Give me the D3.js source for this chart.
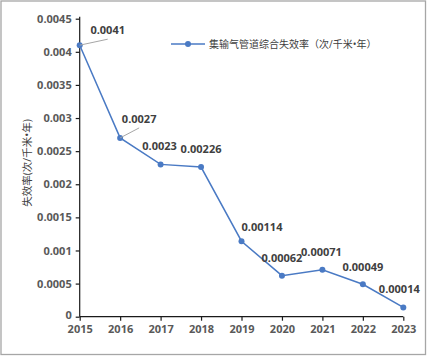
<!DOCTYPE html>
<html><head><meta charset="utf-8">
<script src="https://cdn.jsdelivr.net/npm/d3@7"></script>
<style>
html,body{margin:0;padding:0;background:#fff;}
svg{display:block;}
</style></head>
<body>
<script>
const years = ["2015","2016","2017","2018","2019","2020","2021","2022","2023"];
const values = [0.0041,0.0027,0.0023,0.00226,0.00114,0.00062,0.00071,0.00049,0.00014];
const valueLabels = ["0.0041","0.0027","0.0023","0.00226","0.00114","0.00062","0.00071","0.00049","0.00014"];
const yTicks = [0,0.0005,0.001,0.0015,0.002,0.0025,0.003,0.0035,0.004,0.0045];
const yTickLabels = ["0","0.0005","0.001","0.0015","0.002","0.0025","0.003","0.0035","0.004","0.0045"];
const seriesName = "集输气管道综合失效率（次/千米•年）";
const yTitle = "失效率(次/千米•年)";
// label placement offsets (layout only)
const labelOffsets = [[28,-15,true],[19,-19,true],[-1,-18,false],[0,-18,false],[20.5,-14,false],[0,-17.5,false],[-1,-18,false],[0,-17,false],[-4,-18,false]];

const W=428,H=356;
const svg=d3.select("body").append("svg").attr("width",W).attr("height",H);
svg.append("rect").attr("x",1).attr("y",1).attr("width",424.5).attr("height",353.5)
  .attr("fill","#fff").attr("stroke","#a6a6a6").attr("stroke-width",1.3);

const x=d3.scalePoint().domain(years).range([79.7,403.3]);
const y=d3.scaleLinear().domain([0,0.0045]).range([316.7,18.7]);
const numFont="'Open Sans', 'Noto Sans', sans-serif";
const cjkFont="'Open Sans', 'Noto Sans CJK SC', sans-serif";

// y axis
const ya=svg.append("g").attr("transform","translate(79.7,0)")
  .call(d3.axisLeft(y).tickValues(yTicks).tickFormat((d,i)=>yTickLabels[i]).tickSize(4).tickPadding(4));
ya.select(".domain").attr("stroke","#1a1a1a").attr("stroke-width",1.2);
ya.selectAll(".tick line").attr("stroke","#1a1a1a").attr("stroke-width",1.2);
ya.selectAll("text").attr("fill","#595959").style("font-family",numFont).style("font-weight","bold").style("font-size","11px");
ya.select(".domain").attr("d","M0,16.7V316.7");
ya.selectAll(".tick text").filter(d=>d===0).attr("dy","0.2em");

// x axis
const xa=svg.append("g").attr("transform","translate(0,316.7)")
  .call(d3.axisBottom(x).tickSize(4).tickPadding(5));
xa.select(".domain").attr("stroke","#1a1a1a").attr("stroke-width",1.2).attr("d","M79.7,0H403.3");
xa.selectAll(".tick line").attr("stroke","#1a1a1a").attr("stroke-width",1.2);
xa.selectAll("text").attr("fill","#595959").style("font-family",numFont).style("font-weight","bold").style("font-size","11px");

// y title
svg.append("text").attr("transform","translate(31,163) rotate(-90)").attr("text-anchor","middle")
  .attr("fill","#404040").style("font-family",cjkFont).style("font-size","10.5px").text(yTitle);

// line
const color="#4a7ac4";
const data=years.map((yr,i)=>({yr,v:values[i],lab:valueLabels[i],off:labelOffsets[i]}));
svg.append("path").datum(data).attr("fill","none").attr("stroke",color).attr("stroke-width",1.5)
  .attr("d",d3.line().x(d=>x(d.yr)).y(d=>y(d.v)));
svg.selectAll("circle.pt").data(data).enter().append("circle").attr("class","pt")
  .attr("cx",d=>x(d.yr)).attr("cy",d=>y(d.v)).attr("r",3).attr("fill",color);

// leader lines
data.filter(d=>d.off[2]).forEach(d=>{
  const px=x(d.yr),py=y(d.v);
  svg.append("line").attr("x1",px).attr("y1",py).attr("x2",px+d.off[0]).attr("y2",py+d.off[1]+9)
    .attr("stroke","#a6a6a6").attr("stroke-width",1);
});
// labels
svg.selectAll("text.lab").data(data).enter().append("text").attr("class","lab")
  .attr("x",d=>x(d.yr)+d.off[0]).attr("y",d=>y(d.v)+d.off[1]).attr("dy","0.35em")
  .attr("text-anchor","middle").attr("fill","#404040")
  .style("font-family",numFont).style("font-weight","bold").style("font-size","11px")
  .text(d=>d.lab);

// legend
const lg=svg.append("g");
lg.append("line").attr("x1",171).attr("x2",205).attr("y1",44).attr("y2",44).attr("stroke",color).attr("stroke-width",1.5);
lg.append("circle").attr("cx",188).attr("cy",44).attr("r",3).attr("fill",color);
lg.append("text").attr("x",209).attr("y",44).attr("dy","0.35em").attr("fill","#404040")
  .style("font-family",cjkFont).style("font-size","10px").text(seriesName);
</script>
</body></html>
